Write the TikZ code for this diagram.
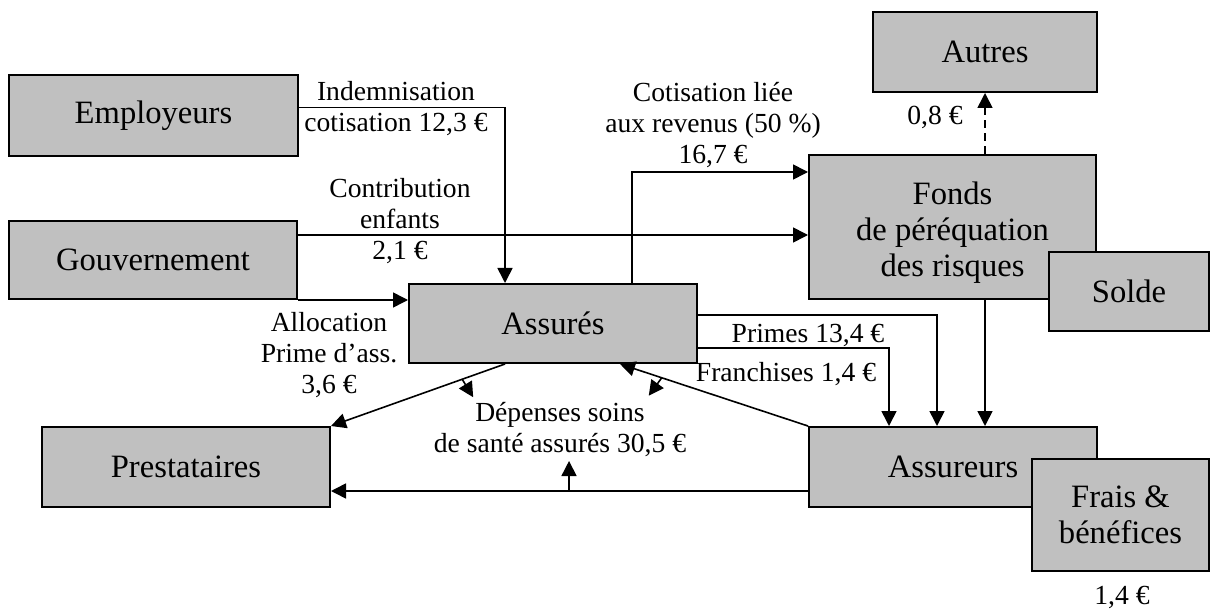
\documentclass[tikz,border=0pt]{standalone}
\usepackage{fontspec}
\setmainfont{Liberation Serif}
\usetikzlibrary{arrows.meta,calc}
\definecolor{boxgray}{RGB}{192,192,192}
\begin{document}
\begin{tikzpicture}[x=0.5pt,y=-0.5pt,
  box/.style={draw=black,fill=boxgray,line width=1pt,inner sep=0pt,align=center,font=\fontsize{16.3}{18}\selectfont},
  boxtext/.style={inner sep=0pt,align=center,font=\fontsize{16.3}{18}\selectfont},
  lab/.style={inner sep=0pt,align=center,font=\fontsize{13.8}{15.5}\selectfont},
  arr/.style={line width=0.8pt,-{Triangle[length=7.5pt,width=7.5pt]}},
  dashedarr/.style={arr,dash pattern=on 4pt off 2.5pt}]
\useasboundingbox (0,0) rectangle (1215,609);

% boxes
\node[box,minimum width=144.5pt,minimum height=40.5pt] (empl) at (153.5,115.5) {Employeurs};
\node[box,minimum width=144pt,minimum height=39pt] (gouv) at (153,260) {Gouvernement};
\node[box,minimum width=144pt,minimum height=39.5pt] (assures) at (553,323.5) {Assurés};
\node[box,minimum width=144pt,minimum height=40pt] (prest) at (186,467) {Prestataires};
\node[box,minimum width=144pt,minimum height=40pt] (assureurs) at (953,467) {Assureurs};
\node[box,minimum width=143.5pt,minimum height=72pt,
  label={[boxtext,yshift=-2.75pt]center:Fonds\\de péréquation\\des risques}] (fonds) at (952.5,227) {};
\node[box,minimum width=80pt,minimum height=39.5pt] (solde) at (1129,291.5) {Solde};
\node[box,minimum width=112pt,minimum height=40pt] (autres) at (985,52) {Autres};
\node[box,minimum width=88.5pt,minimum height=56pt] (frais) at (1120.5,515) {Frais \&\\bénéfices};

% connectors
\draw[arr] ([yshift=4pt]empl.east) -| ([xshift=-24pt]assures.north);
\draw[arr] ([yshift=12.5pt]gouv.east) -- ([yshift=12.5pt]gouv.east -| fonds.west);
\draw[arr] (gouv.south east) -- (gouv.south east -| assures.west);
\draw[arr] ([xshift=39.5pt]assures.north) |- ([yshift=27.5pt]fonds.west);
\draw[dashedarr] (fonds.north -| autres.south) -- (autres.south);
\draw[arr] ([yshift=4.25pt]assures.east) -| ([xshift=-8pt]assureurs.north);
\draw[arr] ([yshift=-12.25pt]assures.east) -| ([xshift=-32pt]assureurs.north);
\draw[arr] (fonds.south -| autres.south) -- (assureurs.north -| autres.south);
\draw[arr] ([xshift=-24pt]assures.south) -- coordinate[pos=0.246] (p1) (prest.north east);
\draw[arr] (assureurs.north west) -- coordinate[pos=0.778] (p2) ([xshift=33.5pt]assures.south);
\draw[arr] ([yshift=-12pt]assureurs.west) -- coordinate[pos=0.501] (p3) ([yshift=-12pt]assureurs.west -| prest.east);
\draw[arr] (p1) -- ++(11,18);
\draw[arr] (p2) -- ++(-13,18);
\draw[arr] (p3) -- ++(0,-30);

% labels
\node[lab] (lindem) at (396,109) {Indemnisation\\cotisation 12,3 €};
\node[lab] (lcontrib) at (400,221) {Contribution\\enfants\\2,1 €};
\node[lab] (lalloc) at (329,355) {Allocation\\Prime d’ass.\\3,6 €};
\node[lab] (lcotis) at (713,125) {Cotisation liée\\aux revenus (50 \%)\\16,7 €};
\node[lab] (lautres) at (935,117) {0,8 €};
\node[lab] (lprimes) at (808,335) {Primes 13,4 €};
\node[lab] (lfranch) at (786,374) {Franchises 1,4 €};
\node[lab] (ldep) at (560,429.5) {Dépenses soins\\de santé assurés 30,5 €};
\node[lab] (lfrais) at (1122,597) {1,4 €};
\end{tikzpicture}
\end{document}
